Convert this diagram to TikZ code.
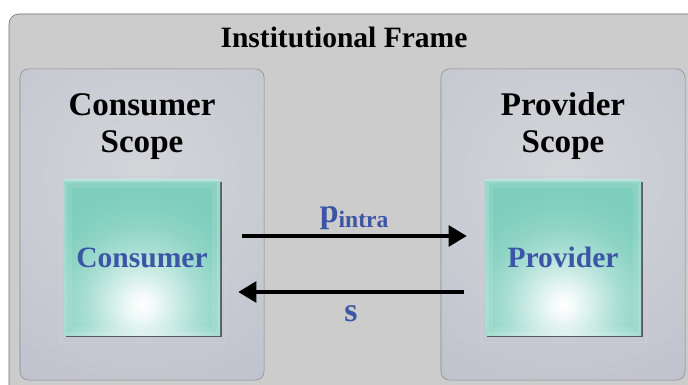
\documentclass[tikz,border=0pt]{standalone}
\usepackage{fontspec}
\setmainfont{Liberation Serif}
\usetikzlibrary{arrows.meta,shadows,calc}

\definecolor{framegray}{HTML}{CCCCCC}
\definecolor{frameline}{HTML}{6E6E6E}
\definecolor{scopeout}{HTML}{B5B9C8}
\definecolor{scopein}{HTML}{D4D5D9}
\definecolor{boxteal}{HTML}{7ECEBD}
\definecolor{agentblue}{HTML}{3C56A6}

\pgfdeclareradialshading{glow}{\pgfpoint{0bp}{0bp}}{color(0bp)=(white); color(0.8bp)=(white!90!boxteal);
  color(2.3bp)=(white!62!boxteal); color(3.9bp)=(white!33!boxteal); color(5.5bp)=(white!13!boxteal);
  color(7bp)=(white!3!boxteal); color(8.2bp)=(boxteal); color(50bp)=(boxteal)}

\tikzset{
  scopebox/.style={draw=frameline!80, fill=scopeout, rounded corners=6pt, minimum width=6.1cm, minimum height=7.775cm,
    path picture={\shade[inner color=scopein, outer color=scopeout]
      ($(path picture bounding box.center)+(0,1.2cm)$) circle (9cm);}},
  scopelabel/.style={font=\fontsize{23.5}{27}\selectfont\bfseries, align=center, anchor=base},
  agentbox/.style={minimum width=3.9cm, minimum height=3.875cm, fill=boxteal, text=agentblue,
    font=\fontsize{21}{24}\selectfont\bfseries,
    drop shadow={shadow xshift=1.2pt, shadow yshift=-1.6pt, fill=black, opacity=0.55},
    path picture={
      \shade[shading=glow]
        ($(path picture bounding box.south)+(0,0.75cm)$) circle (9cm);
      \draw[white, opacity=0.1, line width=12pt] (path picture bounding box.south west) rectangle (path picture bounding box.north east);
      \draw[white, opacity=0.15, line width=5pt] (path picture bounding box.south west) rectangle (path picture bounding box.north east);
      \draw[white, opacity=0.35, line width=1.2pt] (path picture bounding box.north west) -- (path picture bounding box.north east);}},
  flow/.style={line width=2.2pt, -{Triangle[length=0.45cm, width=0.52cm]}},
  msg/.style={text=agentblue, font=\fontsize{24}{26}\selectfont\bfseries}
}

\begin{document}
\begin{tikzpicture}[x=0.025cm, y=-0.025cm]
  \useasboundingbox (0,0) rectangle (688,385);
  \clip (0,0) rectangle (688,385);
  % institutional frame
  \draw[fill=framegray, draw=frameline, rounded corners=7pt] (9,14) rectangle (710,410);
  \node[font=\fontsize{21}{24}\selectfont\bfseries, anchor=base] (inst) at (344,48) {Institutional Frame};
  % scopes
  \node[scopebox] (cscope) at (142,224.5) {};
  \node[scopebox] (pscope) at (563,224.5) {};
  \node[scopelabel] (clabel) at (142,153) {Consumer\\Scope};
  \node[scopelabel] (plabel) at (563,153) {Provider\\Scope};
  % agents
  \draw[white!30!scopeout] (60,176) rectangle (225,342);
  \draw[white!30!scopeout] (481,176) rectangle (646,342);
  \node[agentbox] (cons) at (142,257.5) {Consumer};
  \node[agentbox] (prov) at (563,257.5) {Provider};
  % exchanges
  \draw[flow] ([xshift=0.55cm, yshift=0.5375cm]cons.east) -- node[msg, above=0pt] (pintra) {p\textsubscript{intra}}
    ([xshift=-0.45cm, yshift=0.5375cm]prov.west);
  \draw[flow] ([xshift=-0.525cm, yshift=-0.8625cm]prov.west) -- node[msg, below=5pt] (serv) {s}
    ([xshift=0.45cm, yshift=-0.8625cm]cons.east);
\end{tikzpicture}
\end{document}
